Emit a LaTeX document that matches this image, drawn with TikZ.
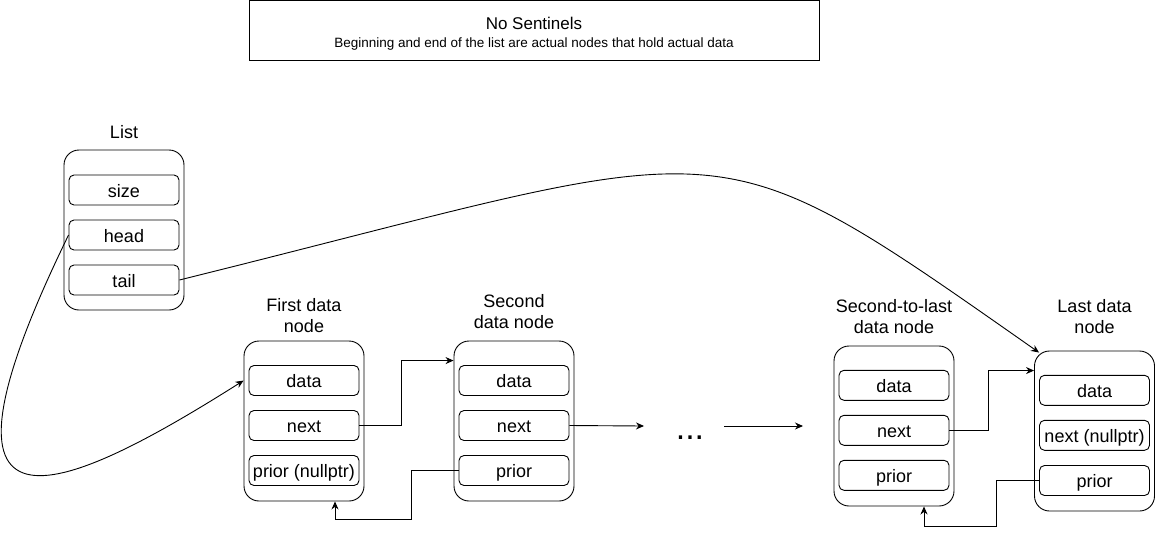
\documentclass[tikz,border=0pt]{standalone}
\usepackage{fontspec}
\setmainfont{Liberation Sans}
\usetikzlibrary{arrows.meta}

\begin{document}
\begin{tikzpicture}[x=1pt,y=-1pt,line width=0.9pt,
    record/.style={draw, rounded corners=15pt, minimum width=120pt, minimum height=160pt},
    field/.style={draw, rounded corners=5pt, minimum width=110pt, minimum height=30pt, inner sep=0pt, text height=15pt, text depth=1pt, font=\fontsize{18}{21}\selectfont},
    heading/.style={align=center, inner sep=0pt, anchor=base, font=\fontsize{18}{21}\selectfont},
    link/.style={-{Stealth[length=8pt,width=7pt]}}]

    \useasboundingbox (0,0) rectangle (1155,536);

    % Draw the title box
    \node[draw, minimum width=570pt, minimum height=60pt] (title) at (534,30) {};
    \node[anchor=base, inner sep=0pt, font=\fontsize{17}{20}\selectfont] (titlemain) at (534,29) {No Sentinels};
    \node[anchor=base, inner sep=0pt, font=\fontsize{13.5}{16}\selectfont] (titlesub) at (534,47) {Beginning and end of the list are actual nodes that hold actual data};

    % Draw the list
    \node[heading] (listlabel) at (124,138) {List};
    \node[record] (list) at (124,230) {};
    \node[field] (listsize) at (124,190) {size};
    \node[field] (listhead) at (124,235) {head};
    \node[field] (listtail) at (124,280) {tail};

    % Draw the first data node
    \node[heading, anchor=south] (firstlabel) at (304,333) {First data\\node};
    \node[record] (first) at (304,421) {};
    \node[field] (firstdata) at (304,380.5) {data};
    \node[field] (firstnext) at (304,425.5) {next};
    \node[field] (firstprior) at (304,470.5) {prior (nullptr)};

    % Draw the second data node
    \node[heading, anchor=south] (secondlabel) at (514,329) {Second\\data node};
    \node[record] (second) at (514,421) {};
    \node[field] (seconddata) at (514,380.5) {data};
    \node[field] (secondnext) at (514,425.5) {next};
    \node[field] (secondprior) at (514,470.5) {prior};

    % Draw the gap
    \node[anchor=base, inner sep=0pt, font=\fontsize{34}{40}\selectfont] (dots) at (690,439) {...};
    \coordinate (gapin) at (644,426);
    \coordinate (gapout) at (724,426);
    \coordinate (gapend) at (803,426);

    % Draw the second-to-last data node
    \node[heading, anchor=south] (penultlabel) at (894,334) {Second-to-last\\data node};
    \node[record] (penult) at (894,426) {};
    \node[field] (penultdata) at (894,385.3) {data};
    \node[field] (penultnext) at (894,430.3) {next};
    \node[field] (penultprior) at (894,475.3) {prior};

    % Draw the last data node
    \node[heading, anchor=south] (lastlabel) at (1094.5,334) {Last data\\node};
    \node[record] (last) at (1094.5,431) {};
    \node[field] (lastdata) at (1094.5,390.3) {data};
    \node[field] (lastnext) at (1094.5,435.3) {next (nullptr)};
    \node[field] (lastprior) at (1094.5,480.5) {prior};

    % Draw the links
    \draw[link] (listhead.west) .. controls (-90,560) and (58,498) .. ([yshift=-40pt]first.north west);
    \draw[link] (listtail.east) .. controls (744,140) and (700,115) .. ([xshift=5pt,yshift=-2pt]last.north west);

    \draw[link] (firstnext.east) -- ++(42,0) |- ([yshift=-20pt]second.north west);
    \draw[link] (secondprior.west) -- ++(-47,0) -- ++(0,49) -| ([xshift=31pt]first.south);

    \draw[link] (secondnext.east) -- (gapin);
    \draw[link] (gapout) -- (gapend);

    \draw[link] (penultnext.east) -- ++(39,0) |- ([yshift=-20pt]last.north west);
    \draw[link] (lastprior.west) -- ++(-43,0) -- ++(0,46) -| ([xshift=30pt]penult.south);

\end{tikzpicture}
\end{document}
